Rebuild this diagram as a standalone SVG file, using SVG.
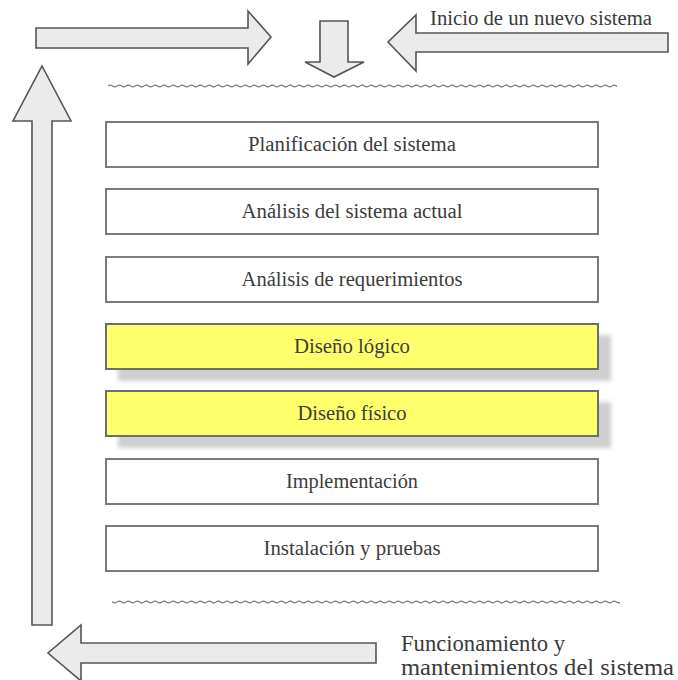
<svg xmlns="http://www.w3.org/2000/svg" width="678" height="680" viewBox="0 0 678 680">
  <style>
    .arrow { fill: #ebebeb; stroke: #555; stroke-width: 1.6; stroke-linejoin: miter; }
    .box { fill: #ffffff; stroke: #7a7a7a; stroke-width: 2; }
    .box.hl { fill: #ffff6b; stroke: #6e6e6e; }
    .shadow { fill: #cfcfcf; filter: url(#soft); }
    .label { font-family: 'Liberation Serif', 'DejaVu Serif', 'Times New Roman', serif; font-size: 20px; fill: #3c3c3c; text-anchor: middle; }
    .note { font-family: 'Liberation Serif', 'DejaVu Serif', 'Times New Roman', serif; fill: #3a3a3a; }
  </style>
  <defs>
    <filter id="soft" x="-10%" y="-30%" width="120%" height="160%">
      <feGaussianBlur stdDeviation="2"/>
    </filter>
    <pattern id="wave" x="0" y="0" width="9" height="4" patternUnits="userSpaceOnUse">
      <path d="M0 2 q2.25 -1.6 4.5 0 t4.5 0" fill="none" stroke="#7a7a7a" stroke-width="1.2"/>
    </pattern>
  </defs>
  <rect width="678" height="680" fill="#ffffff"/>

  <!-- cycle arrows -->
  <g id="connectors">
    <polygon id="arrow-top-right" class="arrow" points="36,28 248,28 248,11 271,37 248,64 248,48 36,48"/>
    <polygon id="arrow-down" class="arrow" points="320,21 348,21 348,62 364,62 334,77 305,62 320,62"/>
    <polygon id="arrow-top-left" class="arrow" points="668,33 416,33 416,15 388,42 416,71 416,52 668,52"/>
    <polygon id="arrow-up" class="arrow" points="42,66 71,121 52,121 52,625 32,625 32,121 13,121"/>
    <polygon id="arrow-bottom-left" class="arrow" points="376,643 81,643 81,625 48,653 81,681 81,663 376,663"/>
  </g>

  <!-- wavy break lines -->
  <g id="breaks">
    <rect x="108" y="84" width="509" height="4" fill="url(#wave)"/>
    <rect x="112" y="600" width="508" height="4" fill="url(#wave)"/>
  </g>

  <g id="note-start">
    <text class="note" x="430" y="25" font-size="20" textLength="222" lengthAdjust="spacingAndGlyphs">Inicio de un nuevo sistema</text>
  </g>
  <g id="note-end">
    <text class="note" x="401" y="651" font-size="24" textLength="164" lengthAdjust="spacingAndGlyphs">Funcionamiento y</text>
    <text class="note" x="401" y="675" font-size="24" textLength="273" lengthAdjust="spacingAndGlyphs">mantenimientos del sistema</text>
  </g>

  <!-- phases -->
  <g id="phase-1">
    <rect class="box" x="106" y="122" width="492" height="45"/>
    <text class="label" x="352" y="151" textLength="208" lengthAdjust="spacingAndGlyphs">Planificación del sistema</text>
  </g>
  <g id="phase-2">
    <rect class="box" x="106" y="189" width="492" height="45"/>
    <text class="label" x="352" y="218" textLength="221" lengthAdjust="spacingAndGlyphs">Análisis del sistema actual</text>
  </g>
  <g id="phase-3">
    <rect class="box" x="106" y="257" width="492" height="45"/>
    <text class="label" x="352" y="286" textLength="221" lengthAdjust="spacingAndGlyphs">Análisis de requerimientos</text>
  </g>
  <g id="phase-4">
    <rect class="shadow" x="118" y="335" width="493" height="46"/>
    <rect class="box hl" x="106" y="324" width="492" height="45"/>
    <text class="label" x="352" y="353" textLength="116" lengthAdjust="spacingAndGlyphs">Diseño lógico</text>
  </g>
  <g id="phase-5">
    <rect class="shadow" x="118" y="402" width="493" height="46"/>
    <rect class="box hl" x="106" y="391" width="492" height="45"/>
    <text class="label" x="352" y="420" textLength="109" lengthAdjust="spacingAndGlyphs">Diseño físico</text>
  </g>
  <g id="phase-6">
    <rect class="box" x="106" y="459" width="492" height="45"/>
    <text class="label" x="352" y="488" textLength="132" lengthAdjust="spacingAndGlyphs">Implementación</text>
  </g>
  <g id="phase-7">
    <rect class="box" x="106" y="526" width="492" height="45"/>
    <text class="label" x="352" y="555" textLength="177" lengthAdjust="spacingAndGlyphs">Instalación y pruebas</text>
  </g>
</svg>
